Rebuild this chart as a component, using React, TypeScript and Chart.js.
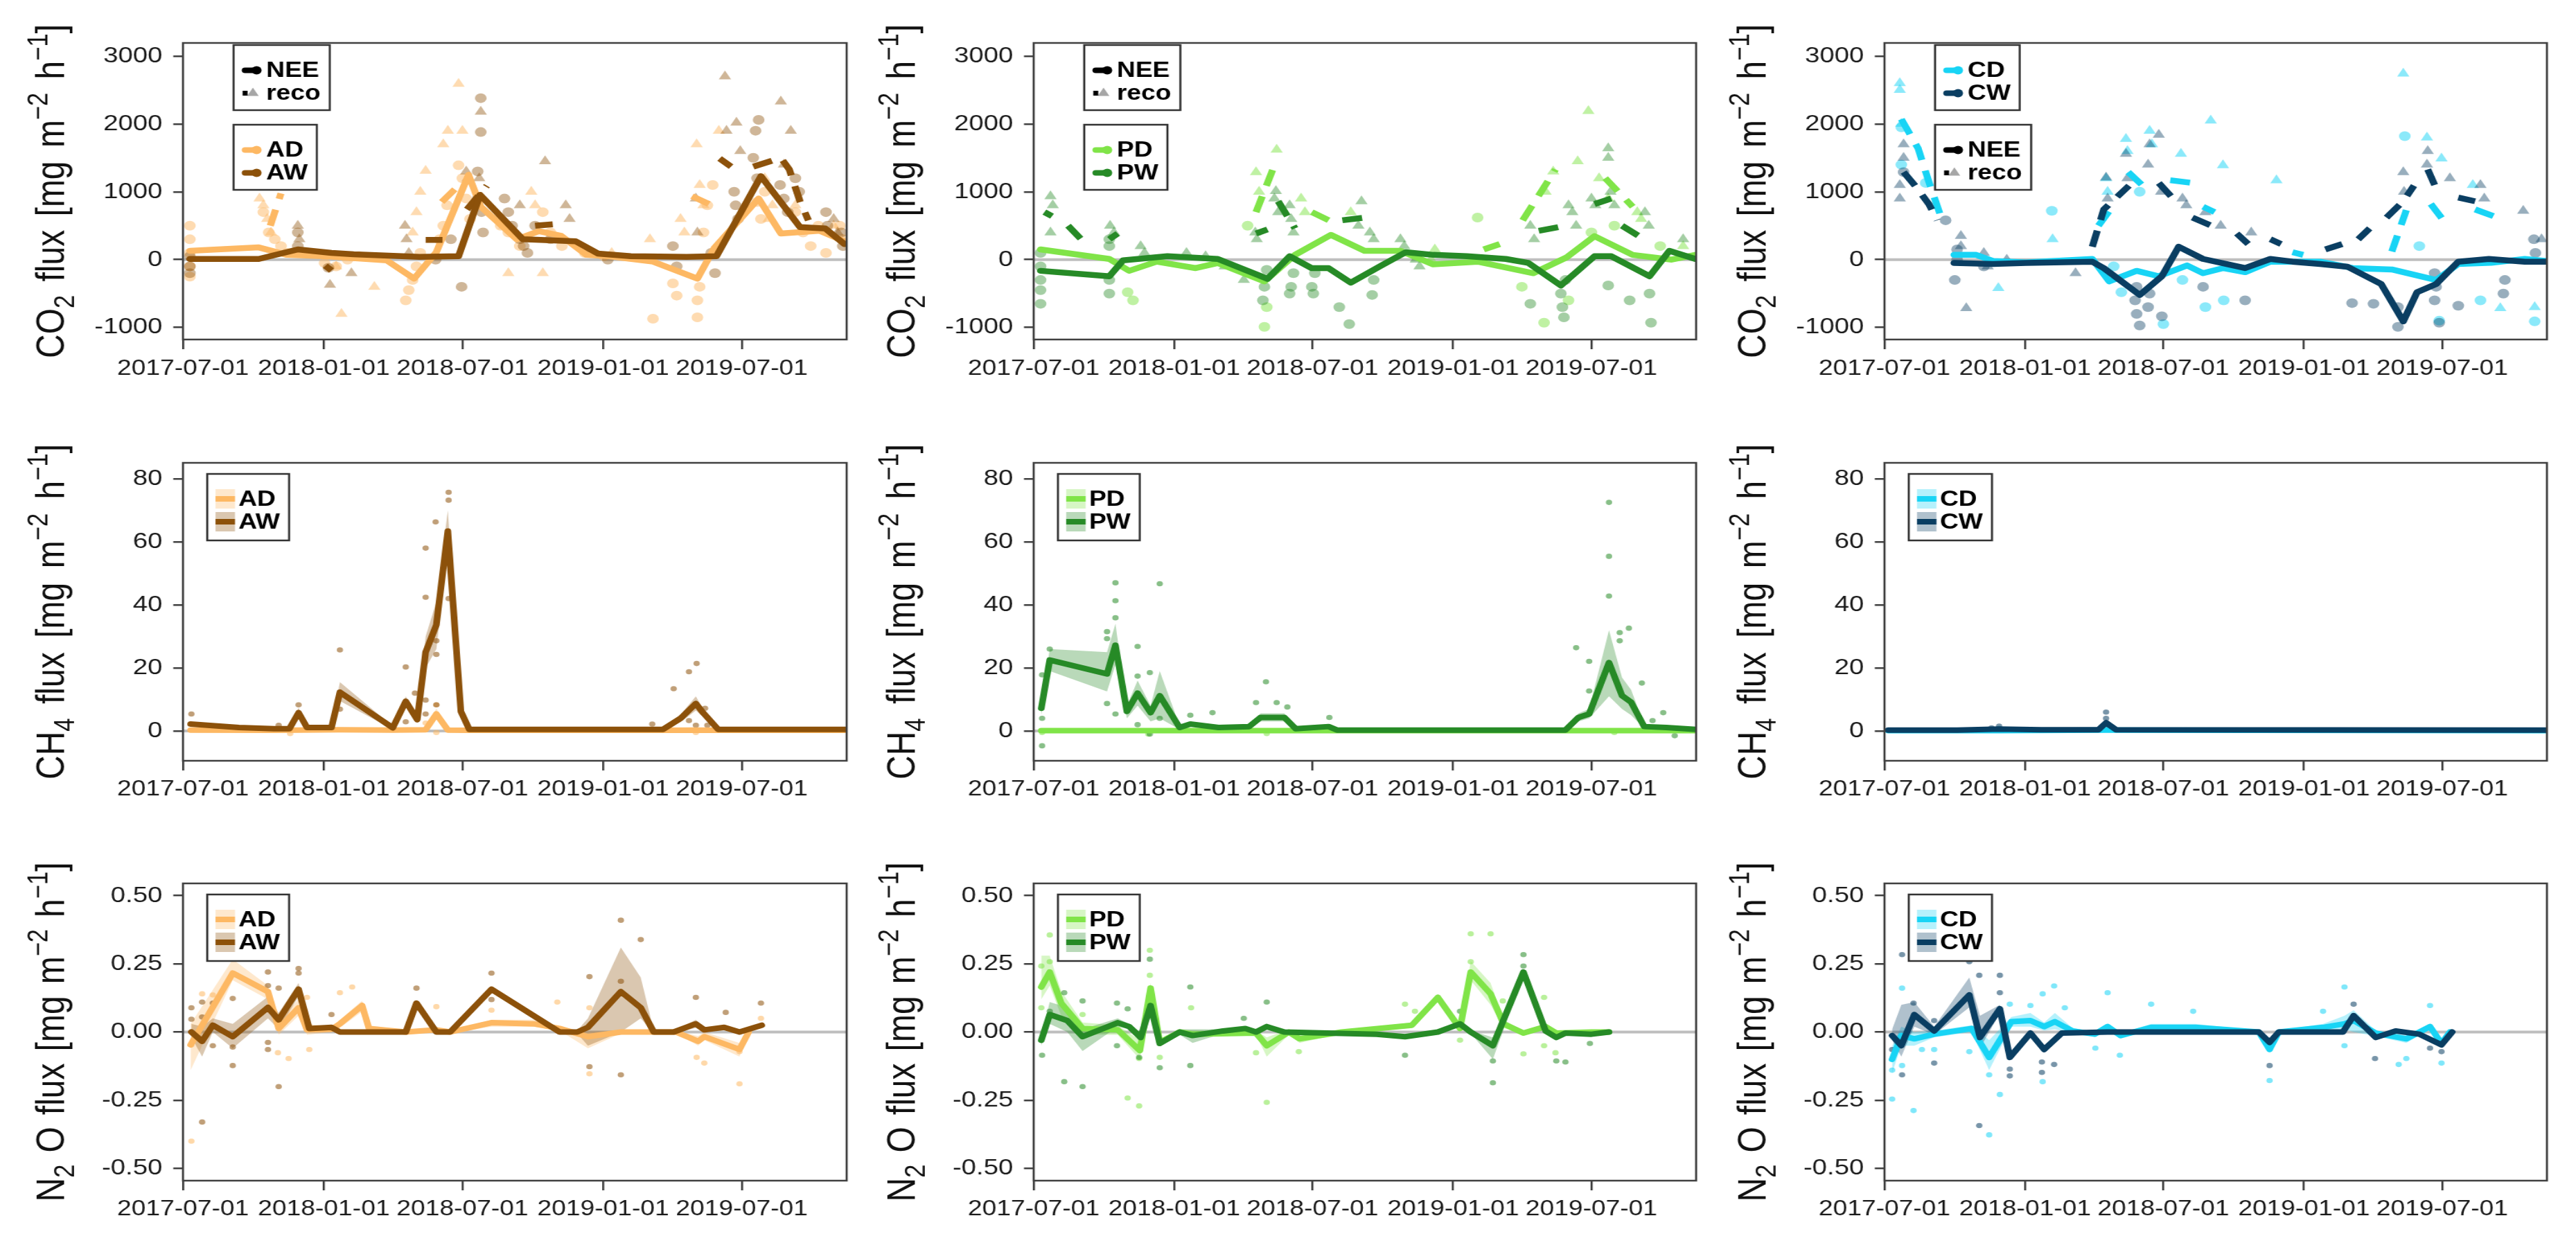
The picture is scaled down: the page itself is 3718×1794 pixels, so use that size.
import React, { useEffect, useRef } from 'react';
import { Chart, registerables } from 'chart.js';

Chart.register(...registerables);

// ---------------- axes ----------------
const X_START = '2017-07-01';
const X_END = '2019-11-15';
const X_TICK_LABELS = ['2017-07-01', '2018-01-01', '2018-07-01', '2019-01-01', '2019-07-01'];

const CO2_RANGE = [-1177, 3193];
const CO2_TICKS = [-1000, 0, 1000, 2000, 3000];
const CO2_TICK_LABELS = ['-1000', '0', '1000', '2000', '3000'];
const CH4_RANGE = [-9.45, 85.05];
const CH4_TICKS = [0, 20, 40, 60, 80];
const CH4_TICK_LABELS = ['0', '20', '40', '60', '80'];
const N2O_RANGE = [-0.545, 0.545];
const N2O_TICKS = [-0.5, -0.25, 0, 0.25, 0.5];
const N2O_TICK_LABELS = ['-0.50', '-0.25', '0.00', '0.25', '0.50'];

const GROUPS = ['A', 'P', 'C'];
const TREATMENTS = ['D', 'W'];
const FLUX_LABELS = ['NEE', 'reco'];

// ---------------- CO2 (day since 2017-07-01, mg m-2 h-1) ----------------
const A_AD_NEE = [[9,130],[99,180],[136,70],[185,50],[266,-10],[302,-280],[331,110],[373,1250],[389,780],[436,300],[465,420],[494,350],[527,70],[556,50],[614,-30],[672,-280],[694,170],[752,900],[781,385],[832,425],[864,270]];
const A_AW_NEE = [[9,10],[99,10],[150,150],[194,100],[223,80],[309,40],[360,50],[388,955],[444,300],[513,270],[542,90],[585,50],[658,40],[697,50],[755,1230],[806,480],[839,460],[864,230]];
const A_AD_RECO = [[114,500],[128,975],null,[338,850],[360,1090],null,[665,935],[687,820]];
const A_AW_RECO = [[186,-90],[194,-160],null,[317,290],[339,290],null,[371,740],[397,1090],null,[460,500],[483,520],null,[701,1490],[716,1370],null,[745,1370],[781,1500],[792,1330],[806,860],[817,580]];
const A_AD_NEE_PTS = [[9,500],[9,300],[9,100],[9,-100],[9,-250],[105,700],[112,400],[120,300],[128,200],[136,100],[185,-50],[200,-100],[215,0],[230,50],[291,-600],[295,-450],[300,-300],[305,-100],[310,100],[335,300],[340,500],[345,800],[360,1390],[365,1200],[370,900],[375,600],[415,500],[425,400],[440,200],[470,700],[480,400],[495,200],[525,100],[550,50],[614,-870],[640,-350],[645,-530],[672,-850],[672,-600],[675,-400],[680,400],[685,800],[692,1100],[750,850],[755,600],[760,1000],[800,700],[810,400],[820,200],[830,500],[840,100],[858,500],[862,300]];
const A_AD_RECO_PTS = [[100,900],[105,800],[110,600],[115,400],[200,-100],[207,-800],[250,-400],[317,1310],[310,1000],[305,700],[300,400],[340,1700],[346,1900],[360,2590],[365,1900],[420,500],[425,-200],[455,1000],[460,800],[470,-200],[560,100],[610,300],[615,0],[650,600],[655,400],[671,1700],[675,1100],[680,800],[700,1900],[760,1200],[765,600],[770,800],[800,800],[850,500]];
const A_AW_NEE_PTS = [[9,-100],[9,-200],[9,50],[150,400],[150,200],[190,-120],[330,0],[364,-400],[350,300],[389,2380],[389,1880],[385,1300],[385,900],[390,700],[392,400],[420,900],[425,700],[430,500],[440,300],[445,200],[450,100],[460,500],[480,300],[530,100],[555,0],[640,200],[645,-100],[690,100],[695,-200],[720,1000],[722,800],[725,600],[752,2060],[748,1900],[745,1500],[750,1200],[780,1100],[785,900],[790,700],[800,1200],[805,1000],[840,700],[842,500],[860,400],[862,200]];
const A_AW_RECO_PTS = [[150,500],[152,300],[192,-370],[220,-200],[290,500],[292,300],[295,100],[370,1300],[372,1200],[389,2180],[387,1200],[473,1450],[440,800],[500,800],[505,600],[670,900],[672,400],[708,2700],[710,1900],[723,2020],[728,1600],[781,2330],[785,1400],[794,1900],[850,600],[855,400]];

const P_PD_NEE = [[9,150],[99,10],[125,-165],[161,-30],[212,-125],[241,-50],[302,-320],[342,70],[389,365],[433,130],[480,130],[523,-70],[581,-30],[654,-200],[697,30],[734,345],[784,70],[835,0],[866,70]];
const P_PW_NEE = [[9,-165],[99,-245],[117,-10],[175,50],[241,10],[306,-283],[335,50],[364,-126],[386,-126],[415,-340],[455,-86],[487,110],[523,70],[567,50],[618,10],[647,-47],[690,-380],[734,50],[756,50],[806,-245],[832,130],[866,10]];
const P_PD_RECO = [[291,700],[313,1330],null,[364,700],[386,580],null,[589,150],[610,230],null,[640,580],[683,1330],null,[748,1200],[784,780]];
const P_PW_RECO = [[14,700],[24,640],null,[45,500],[63,290],null,[99,300],[110,385],null,[291,385],[306,445],null,[320,860],[342,460],null,[404,580],[433,620],null,[661,425],[687,480],null,[734,820],[756,900],null,[770,500],[799,300]];
const P_PD_NEE_PTS = [[123,-480],[130,-600],[280,500],[302,-990],[305,-700],[581,620],[639,-400],[668,-930],[820,200],[700,-600],[730,400],[760,500]];
const P_PD_RECO_PTS = [[291,1290],[295,1000],[318,1620],[350,900],[355,700],[415,700],[520,0],[525,150],[670,1000],[680,1300],[712,1450],[726,2190],[740,1200],[752,900],[790,700],[795,600],[850,200]];
const P_PW_NEE_PTS = [[9,-650],[9,-450],[9,-300],[9,-100],[9,100],[99,-500],[99,-300],[99,200],[99,300],[300,-600],[302,-400],[305,-150],[335,-500],[337,-400],[340,-200],[364,-400],[366,-500],[368,-200],[400,-700],[413,-950],[443,-520],[445,-300],[650,-650],[690,-500],[694,-850],[692,-700],[696,-300],[752,-380],[780,-600],[808,-930],[806,-500]];
const P_PW_RECO_PTS = [[22,935],[22,400],[25,800],[100,500],[105,400],[140,200],[145,100],[200,100],[225,50],[250,-100],[275,-300],[290,400],[292,300],[317,1010],[315,900],[320,700],[335,800],[337,600],[340,400],[429,860],[425,500],[440,400],[445,300],[480,300],[485,200],[500,0],[505,-100],[650,500],[655,300],[700,800],[705,700],[710,500],[730,900],[735,800],[752,1640],[752,1500],[755,1000],[760,800],[800,700],[805,500],[850,300]];

const C_CD_NEE = [[91,70],[120,70],[142,-20],[185,-40],[272,10],[294,-320],[330,-165],[359,-245],[396,-85],[417,-200],[443,-125],[472,-185],[505,-30],[570,-30],[613,-125],[664,-145],[722,-300],[751,-65],[794,-47],[838,10],[866,-20]];
const C_CW_NEE = [[91,-50],[142,-65],[185,-50],[272,-30],[287,-125],[334,-520],[363,-245],[385,190],[417,10],[472,-125],[505,10],[534,-30],[570,-65],[606,-105],[650,-360],[679,-910],[697,-480],[722,-360],[751,-30],[791,10],[838,-30],[866,-30]];
const C_CD_RECO = [[22,2070],[44,1640],[58,1150],[73,660],null,[280,500],[301,820],null,[319,1290],[338,1090],null,[374,1170],[403,1130],null,[417,780],[432,700],null,[534,110],[548,70],null,[664,120],[683,730],null,[715,820],[737,500],null,[773,740],[802,620]];
const C_CW_RECO = [[25,1290],[40,1090],[58,820],[69,580],null,[272,190],[287,740],[320,1090],null,[359,1130],[381,860],null,[403,620],[432,480],null,[461,385],[476,230],null,[505,300],[519,230],null,[577,150],[599,230],null,[620,300],[635,460],null,[657,620],[679,860],[693,1090],null,[711,1330],[722,1050],null,[751,915],[773,860]];
const C_CD_NEE_PTS = [[22,1950],[22,1400],[54,1130],[219,720],[300,-100],[310,-480],[334,1000],[365,-950],[390,-300],[420,-700],[444,-600],[681,1820],[700,200],[726,-900],[780,-600],[851,-910]];
const C_CD_RECO_PTS = [[20,2600],[20,2500],[22,2000],[149,-420],[220,300],[290,1200],[292,1000],[316,1780],[318,1600],[347,1900],[350,1700],[388,1560],[427,2050],[443,1390],[513,1170],[679,2740],[710,1800],[729,1490],[770,1100],[806,-715],[851,-700]];
const C_CW_NEE_PTS = [[25,1290],[80,580],[95,150],[95,0],[92,-300],[130,-100],[334,-970],[330,-800],[328,-600],[330,-400],[345,-700],[347,-500],[363,-835],[417,-400],[472,-600],[612,-640],[640,-650],[672,-990],[672,-700],[726,-930],[720,-600],[722,-400],[720,-200],[751,-680],[810,-500],[812,-300],[850,300],[852,100]];
const C_CW_RECO_PTS = [[25,1700],[25,1500],[20,1100],[20,900],[100,350],[100,200],[107,-715],[130,100],[135,-100],[160,0],[250,-200],[290,1210],[292,900],[316,1560],[318,1200],[347,1700],[345,1400],[359,1840],[362,1000],[390,900],[395,800],[420,700],[440,500],[480,400],[679,1290],[680,1000],[711,1600],[710,1400],[740,1200],[780,1100],[785,900],[836,720],[860,300]];

// ---------------- CH4: [day, mean, lower, upper] ----------------
const A_AD_CH4 = [[10,0.3,0.1,0.5],[119,0.2,0,0.4],[205,0.4,0.2,0.6],[274,0.3,0.1,0.5],[317,0.4,0.2,0.6],[331,5.4,3.6,7.2],[346,0.3,0.1,0.5],[374,0.2,0,0.4],[627,0.2,0,0.4],[670,0.3,0.1,0.5],[699,0.2,0,0.4],[868,0.2,0,0.4]];
const A_AW_CH4 = [[10,2.2,1.6,2.8],[73,1.1,0.7,1.5],[119,0.7,0.3,1.1],[139,0.7,0.3,1.1],[151,5.8,4.2,7.4],[162,1.1,0.6,1.6],[194,1.1,0.6,1.6],[205,12.3,9.5,15.5],[274,1.0,0.5,1.5],[291,9.4,7.8,11],[306,3.6,2.4,4.8],[317,25,20,30],[331,33.7,26,41],[346,63.4,58,70],[363,6.2,5,7.4],[374,0.5,0.2,0.8],[627,0.5,0.2,0.8],[650,4.0,2.8,5.2],[670,8.7,6.5,11],[678,6.2,4.8,7.6],[699,0.5,0.2,0.8],[868,0.5,0.2,0.8]];
const P_PD_CH4 = [[10,0.1,-0.1,0.3],[107,0.1,-0.1,0.3],[205,0.1,-0.1,0.3],[397,0.1,-0.1,0.3],[696,0.1,-0.1,0.3],[868,0.1,-0.1,0.3]];
const P_PW_CH4 = [[10,7.2,5,9],[21,22.5,19,26],[96,18.1,12.5,25],[107,27.2,21,34],[122,6.2,4,8],[136,12,8,16],[153,5.8,3,8],[165,11.2,4,19],[191,1.1,0.5,1.7],[205,2.2,1.5,2.9],[242,1.1,0.6,1.6],[282,1.4,0.9,1.9],[297,4.3,3,5.6],[328,4.3,3,5.6],[343,0.7,0.3,1.1],[386,1.4,0.9,1.9],[397,0.3,0.1,0.5],[696,0.3,0.1,0.5],[713,4.3,3,5.6],[727,5.4,4,7],[753,21.7,11,32],[770,11.2,7,17],[782,9.1,5,13],[799,1.4,0.8,2],[828,1.1,0.6,1.6],[868,0.5,0.2,0.8]];
const C_CD_CH4 = [[5,0.1,0,0.2],[150,0.1,0,0.2],[290,0.3,0.1,0.5],[868,0.1,0,0.2]];
const C_CW_CH4 = [[5,0.3,0.1,0.5],[95,0.3,0.1,0.5],[150,0.6,0.3,0.9],[205,0.4,0.2,0.6],[280,0.4,0.2,0.6],[290,2.6,1.5,3.8],[303,0.4,0.2,0.6],[868,0.3,0.1,0.5]];
const A_AD_CH4_PTS = [[331,8.3],[331,-0.5],[140,-0.8],[670,-0.5],[317,2.5]];
const A_AW_CH4_PTS = [[11,5.4],[151,8.3],[205,25.7],[205,6.9],[291,20.3],[291,2.9],[303,12],[317,58],[317,42.4],[317,9.8],[317,5.4],[330,66.3],[331,28.6],[331,24.3],[331,8.3],[347,75.7],[347,73.2],[347,42],[641,13.4],[661,18.8],[671,21.4],[661,3.3],[670,1.8],[682,7.2],[685,1.8],[613,2.2],[125,1.8]];
const P_PD_CH4_PTS = [[11,-0.5],[150,-1],[305,-0.8],[760,-0.5]];
const P_PW_CH4_PTS = [[11,-4.7],[11,17.8],[11,4],[21,26],[96,31.5],[96,29.3],[96,8.7],[107,47],[107,41.3],[107,35.9],[107,5.4],[136,26.8],[136,17.4],[136,2],[152,18.5],[152,-1],[165,46.7],[165,4],[205,5],[234,5.8],[304,15.6],[291,9],[318,9],[332,7.6],[387,4.3],[710,26.4],[727,22.1],[727,12.7],[753,72.5],[753,55.4],[753,42.8],[767,31.2],[767,28.6],[779,32.6],[796,15.2],[810,3.3],[824,5.8],[839,-1.5]];
const C_CD_CH4_PTS = [[290,1.5],[150,0.8]];
const C_CW_CH4_PTS = [[150,1.5],[290,6],[290,4],[292,2],[140,1]];

// ---------------- N2O: [day, mean, lower, upper] ----------------
const A_AD_N2O = [[10,-0.047,-0.14,0.03],[65,0.216,0.19,0.267],[111,0.148,0.12,0.17],[125,0.013,-0.01,0.04],[151,0.089,0.06,0.12],[162,0.008,-0.01,0.03],[194,0.01,0,0.02],[205,0.03,0.015,0.045],[234,0.097,0.075,0.115],[243,0.013,0,0.025],[291,0,-0.005,0.005],[331,0.008,0,0.016],[349,0,-0.005,0.005],[403,0.034,0.02,0.045],[458,0.03,0.02,0.045],[492,0.013,0.005,0.02],[529,-0.017,-0.06,0],[572,0,-0.005,0.005],[644,0,-0.005,0.005],[673,-0.034,-0.05,-0.015],[681,-0.017,-0.03,0],[727,-0.064,-0.09,-0.04],[739,0,-0.005,0.005]];
const A_AW_N2O = [[11,0,-0.02,0.03],[25,-0.034,-0.09,0.02],[39,0.025,0,0.05],[65,-0.017,-0.06,0.03],[111,0.09,0.05,0.13],[125,0.045,0.01,0.07],[151,0.157,0.13,0.18],[165,0.013,0.005,0.02],[194,0.017,0.01,0.025],[205,0,-0.005,0.005],[291,0,-0.005,0.005],[305,0.106,0.095,0.115],[331,0,-0.005,0.005],[349,0,-0.005,0.005],[403,0.157,0.15,0.165],[492,0,-0.005,0.005],[515,0,-0.005,0.005],[529,0.017,-0.05,0.05],[572,0.148,0,0.31],[598,0.089,0.05,0.2],[615,0,-0.005,0.005],[641,0,-0.005,0.005],[670,0.03,0.015,0.045],[681,0.008,0,0.016],[707,0.017,0.01,0.025],[727,0,-0.005,0.005],[756,0.025,0.015,0.035]];
const P_PD_N2O = [[10,0.165,0.12,0.28],[21,0.22,0.17,0.28],[36,0.106,0.06,0.15],[64,0.013,-0.01,0.035],[110,0.008,-0.01,0.025],[139,-0.068,-0.1,-0.03],[153,0.161,0.14,0.18],[165,-0.038,-0.05,-0.025],[191,0,-0.01,0.01],[208,-0.008,-0.02,0.005],[291,-0.004,-0.01,0.005],[305,-0.05,-0.09,-0.02],[334,0,-0.01,0.01],[348,-0.025,-0.04,-0.01],[403,0,-0.005,0.005],[495,0.025,0.015,0.035],[529,0.127,0.12,0.135],[558,0.013,0,0.025],[572,0.22,0.19,0.26],[598,0.14,0.1,0.18],[615,0.03,0.015,0.045],[641,-0.004,-0.01,0.005],[670,0.02,0.01,0.03],[684,-0.004,-0.01,0.005],[730,0,-0.005,0.005],[753,0,-0.005,0.005]];
const P_PW_N2O = [[10,-0.03,-0.05,-0.01],[21,0.064,0.03,0.11],[44,0.042,0,0.09],[64,-0.017,-0.07,0.01],[110,0.034,0.02,0.05],[125,0.02,0.01,0.03],[140,-0.02,-0.04,0],[153,0.097,0.09,0.105],[165,-0.042,-0.05,-0.035],[191,0,-0.01,0.01],[208,-0.013,-0.04,0.01],[248,0.004,-0.005,0.01],[277,0.013,0.005,0.02],[291,0,-0.005,0.005],[305,0.02,0.01,0.03],[328,0,-0.005,0.005],[449,-0.008,-0.015,0],[486,-0.017,-0.025,-0.01],[529,0,-0.005,0.005],[558,0.03,0.02,0.04],[572,0,-0.005,0.005],[601,-0.05,-0.1,-0.02],[641,0.22,0.21,0.23],[670,0.004,-0.005,0.01],[684,-0.02,-0.03,-0.01],[696,-0.004,-0.01,0.005],[730,-0.008,-0.015,0],[753,0,-0.005,0.005]];
const C_CD_N2O = [[10,-0.1,-0.15,-0.05],[22,-0.013,-0.05,0.02],[39,-0.025,-0.05,0],[65,-0.008,-0.02,0.005],[114,0.013,0,0.025],[137,-0.093,-0.14,-0.03],[166,0.038,0.02,0.055],[191,0.042,0.02,0.07],[209,0.02,0.005,0.035],[223,0.038,0.01,0.07],[246,0.004,-0.005,0.015],[275,-0.008,-0.015,0],[292,0.02,0.01,0.03],[309,-0.013,-0.02,-0.005],[349,0.017,0.01,0.03],[407,0.017,0.01,0.03],[490,0,-0.005,0.005],[504,-0.064,-0.075,-0.05],[516,0,-0.005,0.005],[574,0.017,0.005,0.03],[602,0.03,0.01,0.06],[614,0.042,0,0.08],[643,-0.004,-0.015,0.005],[683,-0.025,-0.04,-0.01],[714,0.02,0.01,0.03],[729,-0.042,-0.055,-0.03],[740,0,-0.005,0.005]];
const C_CW_N2O = [[10,-0.013,-0.03,0.01],[22,-0.05,-0.09,0.1],[39,0.064,0.02,0.11],[65,0.004,-0.01,0.02],[111,0.136,0.09,0.2],[125,-0.02,-0.06,0.06],[151,0.085,0.07,0.1],[164,-0.093,-0.1,-0.085],[191,-0.004,-0.01,0.005],[209,-0.064,-0.075,-0.05],[232,-0.004,-0.01,0.005],[292,0,-0.005,0.005],[490,0,-0.005,0.005],[504,-0.038,-0.045,-0.03],[516,0,-0.005,0.005],[600,0,-0.005,0.005],[614,0.06,0.05,0.07],[643,-0.02,-0.03,-0.01],[669,0.004,-0.005,0.01],[700,-0.008,-0.015,0],[729,-0.047,-0.055,-0.04],[743,0,-0.005,0.005]];
const A_AD_N2O_PTS = [[11,-0.4],[11,-0.047],[25,0.14],[39,0.136],[124,-0.076],[138,-0.097],[162,0.127],[165,-0.064],[205,0.144],[221,0.165],[331,0.093],[403,0.08],[489,0.11],[531,0.089],[531,-0.153],[671,-0.093],[681,-0.114],[727,-0.19],[727,-0.072],[755,0.05]];
const A_AW_N2O_PTS = [[11,0.089],[11,0.047],[25,0.11],[25,0.055],[39,0.106],[39,-0.05],[65,0.123],[65,-0.055],[65,-0.123],[111,0.22],[111,0.17],[111,-0.038],[111,-0.064],[125,0.161],[125,-0.2],[151,0.233],[151,0.216],[194,0.064],[305,0.161],[403,0.216],[403,0.119],[531,0.203],[531,-0.127],[572,0.41],[572,0.186],[572,-0.157],[598,0.339],[670,0.127],[709,0.072],[755,0.106],[25,-0.33]];
const P_PD_N2O_PTS = [[21,0.356],[10,0.242],[21,0.258],[10,0.089],[64,0.064],[123,-0.242],[138,-0.271],[138,-0.097],[152,0.3],[152,0.208],[165,-0.093],[206,0.089],[305,-0.258],[291,-0.076],[347,-0.072],[486,0.102],[499,0.076],[558,-0.03],[572,0.36],[598,0.36],[572,0.258],[614,0.114],[641,-0.08],[668,0.127],[668,-0.05],[683,-0.076]];
const P_PW_N2O_PTS = [[11,-0.085],[21,0.076],[40,0.144],[40,-0.182],[64,0.114],[64,-0.2],[109,0.106],[109,-0.05],[123,0.085],[138,-0.093],[152,0.267],[165,-0.131],[205,0.165],[205,-0.123],[275,0.05],[305,0.11],[486,-0.085],[558,0.076],[601,-0.186],[601,-0.106],[641,0.284],[641,0.242],[684,-0.106],[696,-0.11],[728,-0.042]];
const C_CD_N2O_PTS = [[10,-0.246],[10,-0.14],[23,0.161],[23,-0.123],[38,-0.288],[49,-0.064],[65,-0.064],[111,-0.072],[137,-0.377],[137,-0.157],[151,-0.229],[164,0.102],[191,0.097],[207,0.14],[207,-0.182],[222,0.169],[236,0.089],[276,-0.059],[292,0.144],[308,-0.085],[349,0.102],[404,0.076],[504,-0.178],[574,0.076],[602,0.165],[602,-0.05],[673,-0.119],[683,-0.097],[714,0.097],[729,-0.114]];
const C_CW_N2O_PTS = [[23,0.284],[23,-0.157],[10,-0.064],[38,0.106],[65,-0.114],[65,0.042],[111,0.258],[124,0.208],[124,-0.343],[151,0.208],[151,0.144],[164,-0.136],[164,-0.161],[206,-0.11],[206,-0.148],[222,-0.119],[504,-0.123],[614,0.102],[642,-0.097],[714,-0.059],[729,-0.072]];

// ---------------- styling ----------------
const COLORS = {
  AD: [253, 184, 99], AW: [140, 81, 10],
  PD: [128, 228, 72], PW: [38, 138, 38],
  CD: [24, 212, 245], CW: [10, 62, 98],
};
const FONT = '"Liberation Sans", Arial, Helvetica, sans-serif';
const S = 1.2; // horizontal stretch of the whole figure
const COL_LEFT = [264, 1492, 2720];
const COL_RIGHT = [1222, 2448, 3676];
const ROW_TOP = [62, 668, 1275];
const ROW_BOTTOM = [490, 1098, 1704];
const Y_AXIS_W = 264;
const RIGHT_PAD = 24;
const TOP_PAD = 40;
const X_AXIS_H = 85;
const X_LABEL_PAD = [10, 9, 9];
const TITLE_TARGET = [482, 484, 490];
const TITLE_F = 48;
const LEG_F = 31;
const LINE_W = [8.5, 8, 8];

const TITLES = [
  [['CO', 'n'], ['2', 'sub'], [' ', 'gap'], ['flux', 'n'], [' ', 'gap'], ['[mg', 'n'], [' ', 'gap'], ['m', 'n'], ['\u22122', 'sup'], [' ', 'gap'], ['h', 'n'], ['\u22121', 'sup'], [']', 'n']],
  [['CH', 'n'], ['4', 'sub'], [' ', 'gap'], ['flux', 'n'], [' ', 'gap'], ['[mg', 'n'], [' ', 'gap'], ['m', 'n'], ['\u22122', 'sup'], [' ', 'gap'], ['h', 'n'], ['\u22121', 'sup'], [']', 'n']],
  [['N', 'n'], ['2', 'sub'], [' ', 'gap'], ['O', 'n'], [' ', 'gap'], ['flux', 'n'], [' ', 'gap'], ['[mg', 'n'], [' ', 'gap'], ['m', 'n'], ['\u22122', 'sup'], [' ', 'gap'], ['h', 'n'], ['\u22121', 'sup'], [']', 'n']],
];

const CO2 = {
  AD: { nee: A_AD_NEE, reco: A_AD_RECO, neePts: A_AD_NEE_PTS, recoPts: A_AD_RECO_PTS },
  AW: { nee: A_AW_NEE, reco: A_AW_RECO, neePts: A_AW_NEE_PTS, recoPts: A_AW_RECO_PTS },
  PD: { nee: P_PD_NEE, reco: P_PD_RECO, neePts: P_PD_NEE_PTS, recoPts: P_PD_RECO_PTS },
  PW: { nee: P_PW_NEE, reco: P_PW_RECO, neePts: P_PW_NEE_PTS, recoPts: P_PW_RECO_PTS },
  CD: { nee: C_CD_NEE, reco: C_CD_RECO, neePts: C_CD_NEE_PTS, recoPts: C_CD_RECO_PTS },
  CW: { nee: C_CW_NEE, reco: C_CW_RECO, neePts: C_CW_NEE_PTS, recoPts: C_CW_RECO_PTS },
};
const CH4 = {
  AD: { rows: A_AD_CH4, pts: A_AD_CH4_PTS }, AW: { rows: A_AW_CH4, pts: A_AW_CH4_PTS },
  PD: { rows: P_PD_CH4, pts: P_PD_CH4_PTS }, PW: { rows: P_PW_CH4, pts: P_PW_CH4_PTS },
  CD: { rows: C_CD_CH4, pts: C_CD_CH4_PTS }, CW: { rows: C_CW_CH4, pts: C_CW_CH4_PTS },
};
const N2O = {
  AD: { rows: A_AD_N2O, pts: A_AD_N2O_PTS }, AW: { rows: A_AW_N2O, pts: A_AW_N2O_PTS },
  PD: { rows: P_PD_N2O, pts: P_PD_N2O_PTS }, PW: { rows: P_PW_N2O, pts: P_PW_N2O_PTS },
  CD: { rows: C_CD_N2O, pts: C_CD_N2O_PTS }, CW: { rows: C_CW_N2O, pts: C_CW_N2O_PTS },
};

// ---------------- helpers ----------------
const DAY = 86400000;
const dayOf = (s) => (Date.parse(s) - Date.parse(X_START)) / DAY;
const X_TICK_DAYS = X_TICK_LABELS.map(dayOf);
const X_MAX = dayOf(X_END);

const rgba = (c, a) => `rgba(${c[0]},${c[1]},${c[2]},${a})`;
const xy = (arr) => arr.map((p) => ({ x: p[0], y: p[1] }));
const withGaps = (arr) => arr.map((p, i) => (p ? { x: p[0], y: p[1] } : { x: arr[i - 1][0] + 0.5, y: null }));

function lineDs(data, color, width, dash, order) {
  return {
    data, borderColor: color, backgroundColor: color, borderWidth: width, borderDash: dash || [],
    borderCapStyle: dash ? 'butt' : 'round', borderJoinStyle: 'round',
    pointRadius: 0, fill: false, tension: 0, spanGaps: false, order, clip: 0,
  };
}
function pointDs(data, color, style, r, order) {
  return {
    data, showLine: false, pointStyle: style, pointRadius: r, pointBackgroundColor: color,
    pointBorderWidth: 0, borderColor: 'rgba(0,0,0,0)', backgroundColor: color, order, clip: 0,
  };
}

function co2Datasets(g) {
  const ds = [];
  ['W', 'D'].forEach((t, i) => {
    const key = g + t; const c = COLORS[key]; const d = CO2[key];
    ds.push(lineDs(xy(d.nee), rgba(c, 1), LINE_W[0], null, i));
    ds.push(lineDs(withGaps(d.reco), rgba(c, 1), LINE_W[0], [24, 16], i));
  });
  ['W', 'D'].forEach((t, i) => {
    const key = g + t; const c = COLORS[key]; const d = CO2[key];
    const a = t === 'W' ? 0.42 : 0.5;
    ds.push(pointDs(xy(d.neePts), rgba(c, a), 'circle', 7, 4 + i));
    ds.push(pointDs(xy(d.recoPts), rgba(c, a), 'triangle', 8.5, 4 + i));
  });
  return ds;
}

function bandDatasets(g, table, row) {
  const ds = [];
  ['W', 'D'].forEach((t, i) => {
    const key = g + t; const c = COLORS[key]; const d = table[key];
    ds.push(lineDs(d.rows.map((r) => ({ x: r[0], y: r[1] })), rgba(c, 1), LINE_W[row], null, i));
    ds.push(pointDs(xy(d.pts), rgba(c, 0.55), 'circle', 3.8, 4 + i));
  });
  ['W', 'D'].forEach((t, i) => {
    const key = g + t; const c = COLORS[key]; const d = table[key];
    ds.push({
      data: d.rows.map((r) => ({ x: r[0], y: r[3] })), borderWidth: 0, pointRadius: 0, tension: 0,
      backgroundColor: rgba(c, 0.32), borderColor: 'rgba(0,0,0,0)', fill: '+1', order: 8 + i, clip: 0,
    });
    ds.push({
      data: d.rows.map((r) => ({ x: r[0], y: r[2] })), borderWidth: 0, pointRadius: 0, tension: 0,
      backgroundColor: 'rgba(0,0,0,0)', borderColor: 'rgba(0,0,0,0)', fill: false, order: 8 + i, clip: 0,
    });
  });
  return ds;
}

// legend layouts, logical px relative to chart area
function legendsFor(row, col) {
  const g = GROUPS[col];
  const tr = TREATMENTS.map((t) => ({ label: g + t, color: COLORS[g + t] }));
  if (row === 0) {
    const fluxBox = { rows: FLUX_LABELS.map((l, i) => ({ label: l, kind: i === 0 ? 'nee' : 'reco', color: [0, 0, 0] })) };
    const trBox = { rows: tr.map((t) => ({ label: t.label, kind: 'line', color: t.color })) };
    const boxes = col === 2 ? [trBox, fluxBox] : [fluxBox, trBox];
    return boxes.map((b, i) => ({
      x: 73 / S, y: i === 0 ? 3 : 118, h: 94, sx0: 86 / S, sx1: 111 / S, tx: 120 / S,
      rows: b.rows.map((r, j) => ({ ...r, y: (i === 0 ? 39.5 : 154.5) + j * 33 })),
    }));
  }
  return [{
    x: 35 / S, y: 16, h: 96, sx0: 47 / S, sx1: 75 / S, tx: 80 / S,
    rows: tr.map((t, j) => ({ label: t.label, kind: 'band', color: t.color, y: 52 + j * 33 })),
  }];
}

function drawLegend(ctx, area, lg) {
  ctx.save();
  ctx.font = `bold ${LEG_F}px ${FONT}`;
  const tw = Math.max(...lg.rows.map((r) => ctx.measureText(r.label).width));
  const x0 = area.left + lg.x; const y0 = area.top + lg.y;
  const w = lg.tx - lg.x + tw + 11;
  ctx.fillStyle = '#ffffff';
  ctx.fillRect(x0, y0, w, lg.h);
  ctx.strokeStyle = '#333333'; ctx.lineWidth = 2.5;
  ctx.strokeRect(x0, y0, w, lg.h);
  const s0 = area.left + lg.sx0; const s1 = area.left + lg.sx1;
  lg.rows.forEach((r) => {
    const yy = area.top + r.y;
    const c = r.color;
    if (r.kind === 'band') {
      ctx.fillStyle = rgba(c, 0.32);
      ctx.fillRect(s0, yy - 14, s1 - s0, 28);
      ctx.strokeStyle = rgba(c, 1); ctx.lineWidth = 8; ctx.lineCap = 'butt';
      ctx.beginPath(); ctx.moveTo(s0, yy); ctx.lineTo(s1, yy); ctx.stroke();
    } else if (r.kind === 'reco') {
      ctx.strokeStyle = rgba(c, 1); ctx.lineWidth = 7; ctx.lineCap = 'butt';
      ctx.beginPath(); ctx.moveTo(s0, yy); ctx.lineTo(s0 + 6, yy); ctx.stroke();
      ctx.fillStyle = 'rgba(0,0,0,0.35)';
      const cx = (s0 + s1) / 2 + 2; const rr = 8;
      ctx.beginPath(); ctx.moveTo(cx, yy - rr); ctx.lineTo(cx + rr * 0.87, yy + rr * 0.5); ctx.lineTo(cx - rr * 0.87, yy + rr * 0.5); ctx.closePath(); ctx.fill();
    } else {
      ctx.strokeStyle = rgba(c, 1); ctx.lineWidth = 8; ctx.lineCap = 'round';
      ctx.beginPath(); ctx.moveTo(s0 + 3, yy); ctx.lineTo(s1 - 3, yy); ctx.stroke();
      ctx.fillStyle = rgba(c, 1);
      ctx.beginPath(); ctx.arc(s1 - 4, yy, 6, 0, Math.PI * 2); ctx.fill();
    }
    ctx.fillStyle = '#000000';
    ctx.font = `bold ${LEG_F}px ${FONT}`;
    ctx.textAlign = 'left'; ctx.textBaseline = 'middle';
    ctx.fillText(r.label, area.left + lg.tx, yy + 1);
  });
  ctx.restore();
}

function drawTitle(ctx, area, segs, target) {
  const F = TITLE_F; const f2 = F * 0.72;
  ctx.save();
  const widths = segs.map(([t, k]) => {
    if (k === 'gap') return F * 0.28;
    ctx.font = `${k === 'n' ? F : f2}px ${FONT}`;
    return ctx.measureText(t).width;
  });
  const nat = widths.reduce((a, b) => a + b, 0);
  const nG = segs.filter((s) => s[1] === 'gap').length;
  const extra = Math.max(0, target - nat) / nG;
  const total = nat + extra * nG;
  const cx = area.left - 160 + 0.716 * F / 2;
  const cy = (area.top + area.bottom) / 2;
  ctx.translate(cx, cy);
  ctx.rotate(-Math.PI / 2);
  ctx.fillStyle = '#111111'; ctx.textBaseline = 'alphabetic'; ctx.textAlign = 'left';
  let x = -total / 2;
  segs.forEach(([t, k], i) => {
    if (k === 'gap') { x += widths[i] + extra; return; }
    ctx.font = `${k === 'n' ? F : f2}px ${FONT}`;
    const dy = k === 'sub' ? F * 0.24 : k === 'sup' ? -F * 0.42 : 0;
    ctx.fillText(t, x, dy);
    x += widths[i];
  });
  ctx.restore();
}

function decoPlugin(row, col) {
  const legends = legendsFor(row, col);
  return {
    id: 'deco',
    beforeDatasetsDraw(chart) {
      const { ctx, chartArea: a } = chart;
      const y0 = chart.scales.y.getPixelForValue(0);
      ctx.save();
      ctx.strokeStyle = 'rgb(190,190,190)'; ctx.lineWidth = 4;
      ctx.beginPath(); ctx.moveTo(a.left, y0); ctx.lineTo(a.right, y0); ctx.stroke();
      ctx.restore();
    },
    afterDraw(chart) {
      const { ctx, chartArea: a } = chart;
      ctx.save();
      ctx.strokeStyle = '#404040'; ctx.lineWidth = 2.5;
      ctx.strokeRect(a.left, a.top, a.right - a.left, a.bottom - a.top);
      ctx.restore();
      legends.forEach((lg) => drawLegend(ctx, a, lg));
      drawTitle(ctx, a, TITLES[row], TITLE_TARGET[row]);
    },
  };
}

function panelGeom(row, col) {
  const cssW = COL_RIGHT[col] - COL_LEFT[col] + Y_AXIS_W + RIGHT_PAD;
  const wl = Math.round(cssW / S);
  const h = ROW_BOTTOM[row] - ROW_TOP[row] + TOP_PAD + X_AXIS_H;
  return { left: COL_LEFT[col] - Y_AXIS_W, top: ROW_TOP[row] - TOP_PAD, wl, h };
}

function buildConfig(row, col) {
  const g = GROUPS[col];
  const range = [CO2_RANGE, CH4_RANGE, N2O_RANGE][row];
  const yTicks = [CO2_TICKS, CH4_TICKS, N2O_TICKS][row];
  const yLabels = [CO2_TICK_LABELS, CH4_TICK_LABELS, N2O_TICK_LABELS][row];
  const datasets = row === 0 ? co2Datasets(g) : bandDatasets(g, row === 1 ? CH4 : N2O, row);
  const tickCommon = { color: '#1a1a1a' };
  return {
    type: 'line',
    data: { datasets },
    options: {
      animation: false, responsive: false, devicePixelRatio: 1, events: [],
      layout: { padding: { left: 0, right: RIGHT_PAD / S, top: TOP_PAD, bottom: 0 } },
      plugins: { legend: { display: false }, tooltip: { enabled: false }, title: { display: false } },
      scales: {
        x: {
          type: 'linear', min: 0, max: X_MAX,
          afterFit: (s) => { s.height = X_AXIS_H; },
          afterBuildTicks: (s) => { s.ticks = X_TICK_DAYS.map((v) => ({ value: v })); },
          ticks: {
            ...tickCommon, autoSkip: false, maxRotation: 0, minRotation: 0, padding: X_LABEL_PAD[row],
            font: { family: FONT, size: 31 },
            callback: (v, i) => X_TICK_LABELS[i],
          },
          grid: { drawOnChartArea: false, drawTicks: true, tickLength: 14, tickColor: '#404040', tickWidth: 2.5, lineWidth: 2.5, color: '#404040' },
          border: { display: false },
        },
        y: {
          type: 'linear', min: range[0], max: range[1],
          afterFit: (s) => { s.width = Y_AXIS_W / S; },
          afterBuildTicks: (s) => { s.ticks = yTicks.map((v) => ({ value: v })); },
          ticks: {
            ...tickCommon, padding: 13, font: { family: FONT, size: 32 },
            callback: (v, i) => yLabels[i],
          },
          grid: { drawOnChartArea: false, drawTicks: true, tickLength: 14 / S, tickColor: '#404040', tickWidth: 2.5, lineWidth: 2.5, color: '#404040' },
          border: { display: false },
        },
      },
    },
    plugins: [decoPlugin(row, col)],
  };
}

function Panel({ row, col }) {
  const ref = useRef(null);
  const geom = panelGeom(row, col);
  useEffect(() => {
    const chart = new Chart(ref.current, buildConfig(row, col));
    return () => chart.destroy();
  }, [row, col]);
  return (
    <canvas
      ref={ref}
      width={geom.wl}
      height={geom.h}
      style={{ position: 'absolute', left: geom.left, top: geom.top, width: geom.wl * S, height: geom.h }}
    />
  );
}

export default function App() {
  useEffect(() => {
    document.body.style.margin = '0';
    document.body.style.background = '#ffffff';
  }, []);
  const cells = [];
  for (let r = 0; r < 3; r++) for (let c = 0; c < 3; c++) cells.push(<Panel key={`${r}-${c}`} row={r} col={c} />);
  return (
    <div style={{ position: 'absolute', left: 0, top: 0, width: 3718, height: 1794, overflow: 'hidden', background: '#ffffff' }}>
      {cells}
    </div>
  );
}
